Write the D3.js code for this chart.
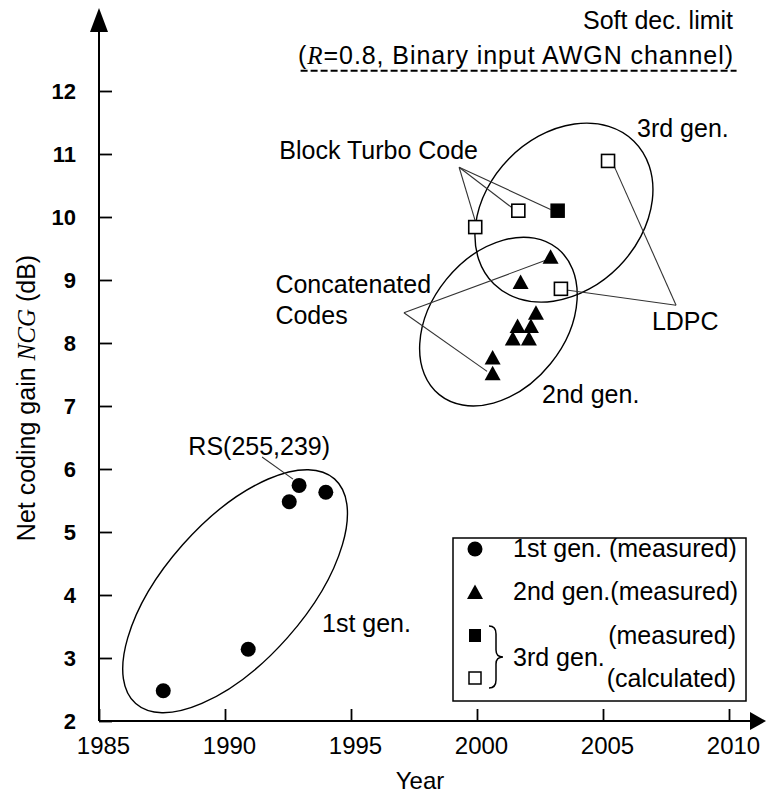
<!DOCTYPE html>
<html><head><meta charset="utf-8">
<script src="https://cdn.jsdelivr.net/npm/d3@7"></script>
<style>
body{margin:0;background:#fff}
svg{display:block}
text{font-family:"Liberation Sans",Arial,sans-serif;fill:#000}
</style>
</head><body>
<svg id="c" width="766" height="796"></svg>
<script>
// ---------- data ----------
const xDomain = [1985, 2010];
const yDomain = [2, 12];
const xTickValues = [1985, 1990, 1995, 2000, 2005, 2010];
const yTickValues = [2, 3, 4, 5, 6, 7, 8, 9, 10, 11, 12];

const gen1Years  = [1987.55, 1990.92, 1992.55, 1992.94, 1994.00];
const gen1Values = [2.48, 3.14, 5.48, 5.74, 5.63];

const gen2Years  = [2000.62, 2000.62, 2001.42, 2001.61, 2002.06, 2002.14, 2002.34, 2001.73, 2002.92];
const gen2Values = [7.52, 7.77, 8.07, 8.27, 8.07, 8.27, 8.48, 8.97, 9.37];

const gen3MeasuredYears  = [2003.2];
const gen3MeasuredValues = [10.10];

const gen3CalcYears  = [1999.93, 2001.64, 2003.33, 2005.20];
const gen3CalcValues = [9.84, 10.10, 8.86, 10.89];

const softLimitValue = 12.32;
const softLimitYears = [1993.0, 2010.3];

const groupNames  = ["1st gen.", "2nd gen.", "3rd gen."];
const groupYears  = [1990.40, 2000.85, 2003.45];
const groupValues = [4.06, 8.34, 10.07];

// ---------- layout ----------
const ellipseShape = [ {a:150, b:70, rot:48.5}, {a:94, b:67, rot:51}, {a:100, b:77, rot:45.6} ];
const FONT = '"Liberation Sans", Arial, sans-serif';
const SERIF = '"Liberation Serif", "Times New Roman", serif';
const LBL = "25px";

const svg = d3.select("#c");
const x = d3.scaleLinear().domain(xDomain).range([99, 729]);
const y = d3.scaleLinear().domain(yDomain).range([721, 91]);

// ---------- axes ----------
const gx = svg.append("g").attr("transform", `translate(0,${y(2)})`)
  .call(d3.axisBottom(x).tickValues(xTickValues).tickSize(-12).tickPadding(16).tickFormat(d3.format("d")));
gx.select(".domain").remove();
gx.selectAll(".tick line").attr("stroke", "#000").attr("stroke-width", 1.8);
gx.selectAll(".tick text").style("font-family", FONT).style("font-size", "24px").attr("dx", 4).attr("fill", "#000");

const gy = svg.append("g").attr("transform", `translate(${x(1985)},0)`)
  .call(d3.axisLeft(y).tickValues(yTickValues).tickSize(-13).tickPadding(23).tickFormat(d3.format("d")));
gy.select(".domain").remove();
gy.selectAll(".tick line").attr("stroke", "#000").attr("stroke-width", 1.8);
gy.selectAll(".tick text").style("font-family", FONT).style("font-size", "22px").style("font-weight", "bold").attr("fill", "#000");

const x0 = x(1985), y0 = y(2);
svg.append("path").attr("d", `M${x0},${y0}H752`).attr("stroke", "#000").attr("stroke-width", 2);
svg.append("path").attr("d", `M750,${y0-9}L766,${y0}L750,${y0+9}Z`).attr("fill", "#000");
svg.append("path").attr("d", `M${x0},${y0}V28`).attr("stroke", "#000").attr("stroke-width", 2);
svg.append("path").attr("d", `M${x0-9},32L${x0},8L${x0+9},32Z`).attr("fill", "#000");

// axis titles
svg.append("text").attr("x", 420).attr("y", 789).attr("text-anchor", "middle")
  .style("font-size", "24px").text("Year");
const yt = svg.append("text").attr("transform", "translate(35,398) rotate(-90)")
  .attr("text-anchor", "middle").style("font-size", "25px");
yt.append("tspan").text("Net coding gain ");
yt.append("tspan").style("font-family", SERIF).style("font-style", "italic").text("NCG");
yt.append("tspan").text(" (dB)");

// ---------- soft decision limit ----------
svg.append("line")
  .attr("x1", x(softLimitYears[0])).attr("x2", x(softLimitYears[1]))
  .attr("y1", y(softLimitValue)).attr("y2", y(softLimitValue))
  .attr("stroke", "#000").attr("stroke-width", 2).attr("stroke-dasharray", "7,3");
svg.append("text").attr("x", x(2010.16)).attr("y", y(softLimitValue) - 42).attr("text-anchor", "end")
  .style("font-size", "25px").text("Soft dec. limit");
const rl = svg.append("text").attr("x", x(2010.16)).attr("y", y(softLimitValue) - 7).attr("text-anchor", "end")
  .style("font-size", "25px").attr("textLength", 435).attr("lengthAdjust", "spacing");
rl.append("tspan").text("(");
rl.append("tspan").style("font-family", SERIF).style("font-style", "italic").text("R");
rl.append("tspan").text("=0.8, Binary input AWGN channel)");

// ---------- group ellipses ----------
groupNames.forEach((n, i) => {
  svg.append("ellipse")
    .attr("transform", `translate(${x(groupYears[i])},${y(groupValues[i])}) rotate(${-ellipseShape[i].rot})`)
    .attr("rx", ellipseShape[i].a).attr("ry", ellipseShape[i].b)
    .attr("fill", "none").attr("stroke", "#000").attr("stroke-width", 1.4);
});

// ---------- leader lines ----------
const leaders = [
  [1991.47, 6.19, 1992.70, 5.84],   // RS
  [1999.29, 10.79, 1999.92, 9.95],  // BTC
  [1999.29, 10.79, 2001.38, 10.15],
  [1999.29, 10.79, 2002.92, 10.12],
  [1997.10, 8.48, 2002.78, 9.32],   // concatenated
  [1997.10, 8.48, 2000.40, 7.55],
  [2007.90, 8.60, 2005.45, 10.80],  // LDPC
  [2007.90, 8.60, 2003.55, 8.84]
];
svg.append("g").selectAll("line").data(leaders).join("line")
  .attr("x1", d => x(d[0])).attr("y1", d => y(d[1]))
  .attr("x2", d => x(d[2])).attr("y2", d => y(d[3]))
  .attr("stroke", "#333").attr("stroke-width", 1.1);

// ---------- annotation labels ----------
const labels = [
  ["RS(255,239)", 1994.17, 6.22, "end"],
  ["Block Turbo Code", 2000.04, 10.92, "end"],
  ["Concatenated", 1992.0, 8.79, "start"],
  ["Codes", 1992.0, 8.30, "start"],
  ["3rd gen.", 2006.35, 11.27, "start"],
  ["2nd gen.", 2002.58, 7.05, "start"],
  ["LDPC", 2006.94, 8.21, "start"],
  ["1st gen.", 1993.85, 3.41, "start"]
];
svg.append("g").selectAll("text").data(labels).join("text")
  .attr("x", d => x(d[1])).attr("y", d => y(d[2])).attr("text-anchor", d => d[3])
  .style("font-size", LBL).text(d => d[0]);

// ---------- markers ----------
const triPath = "M0,-7.5L8,7L-8,7Z";
const sq = 13;

svg.append("g").selectAll("circle").data(gen1Years).join("circle")
  .attr("cx", d => x(d)).attr("cy", (d, i) => y(gen1Values[i])).attr("r", 7.5).attr("fill", "#000");

svg.append("g").selectAll("path").data(gen2Years).join("path")
  .attr("d", triPath).attr("transform", (d, i) => `translate(${x(d)},${y(gen2Values[i])})`).attr("fill", "#000");

svg.append("g").selectAll("rect").data(gen3MeasuredYears).join("rect")
  .attr("x", d => x(d) - sq/2).attr("y", (d, i) => y(gen3MeasuredValues[i]) - sq/2)
  .attr("width", sq).attr("height", sq).attr("fill", "#000").attr("stroke", "#000").attr("stroke-width", 1.5);

svg.append("g").selectAll("rect").data(gen3CalcYears).join("rect")
  .attr("x", d => x(d) - sq/2).attr("y", (d, i) => y(gen3CalcValues[i]) - sq/2)
  .attr("width", sq).attr("height", sq).attr("fill", "#fff").attr("stroke", "#000").attr("stroke-width", 1.6);

// ---------- legend ----------
const lg = svg.append("g");
lg.append("rect").attr("x", 453).attr("y", 538).attr("width", 293).attr("height", 163)
  .attr("fill", "#fff").attr("stroke", "#000").attr("stroke-width", 1.5);
lg.append("circle").attr("cx", 475).attr("cy", 549).attr("r", 7.5).attr("fill", "#000");
lg.append("text").attr("x", 513).attr("y", 557).style("font-size", LBL).text("1st gen. (measured)");
lg.append("path").attr("d", triPath).attr("transform", "translate(475,592)").attr("fill", "#000");
lg.append("text").attr("x", 513).attr("y", 600).style("font-size", LBL).text("2nd gen.(measured)");
lg.append("rect").attr("x", 469).attr("y", 629).attr("width", 12).attr("height", 13).attr("fill", "#000");
lg.append("rect").attr("x", 469).attr("y", 672).attr("width", 12).attr("height", 12).attr("fill", "#fff").attr("stroke", "#000").attr("stroke-width", 1.5);
lg.append("path").attr("d", "M489,626 Q496,626 496,634 L496,650 Q496,657 503,657 Q496,657 496,664 L496,680 Q496,688 489,688")
  .attr("fill", "none").attr("stroke", "#000").attr("stroke-width", 1.5);
lg.append("text").attr("x", 513).attr("y", 666).style("font-size", LBL).text("3rd gen.");
lg.append("text").attr("x", 736).attr("y", 644).attr("text-anchor", "end").style("font-size", LBL).text("(measured)");
lg.append("text").attr("x", 736).attr("y", 687).attr("text-anchor", "end").style("font-size", LBL).text("(calculated)");
</script>
</body></html>
